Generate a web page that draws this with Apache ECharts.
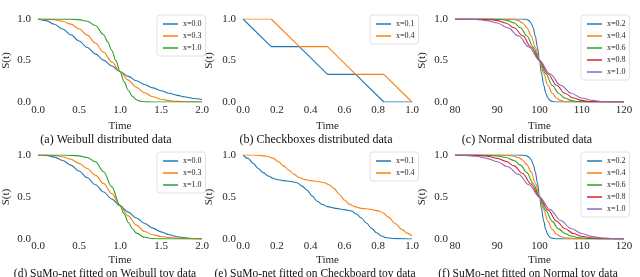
<!DOCTYPE html>
<html>
<head>
<meta charset="utf-8">
<script src="https://cdn.jsdelivr.net/npm/echarts@6/dist/echarts.min.js"></script>
<style>html,body{margin:0;padding:0;background:#fff}#c{width:640px;height:277px}</style>
</head>
<body>
<div id="c"></div>
<script>
// ---------- data ----------
const colors = ['#1f77b4', '#ff7f0e', '#2ca02c', '#d62728', '#9467bd'];
const captions = [
  '(a) Weibull distributed data', '(b) Checkboxes distributed data', '(c) Normal distributed data',
  '(d) SuMo-net fitted on Weibull toy data', '(e) SuMo-net fitted on Checkboard toy data', '(f) SuMo-net fitted on Normal toy data'
];
const weibullNames = ['x=0.0', 'x=0.3', 'x=1.0'];
const checkNames = ['x=0.1', 'x=0.4'];
const normalNames = ['x=0.2', 'x=0.4', 'x=0.6', 'x=0.8', 'x=1.0'];
const weibullTicks = [0, 2, 0.5];
const checkTicks = [0, 1, 0.2];
const normalTicks = [80, 120, 10];

// (a) Weibull true
const aBlue = [[0,1],[0.1,0.98],[0.2,0.937],[0.3,0.879],[0.4,0.81],[0.5,0.735],[0.6,0.657],[0.7,0.58],[0.8,0.504],[0.9,0.433],[1.0,0.368],[1.1,0.309],[1.2,0.256],[1.3,0.21],[1.4,0.17],[1.5,0.136],[1.6,0.105],[1.7,0.08],[1.8,0.06],[1.9,0.043],[2.0,0.03]];
const aOrange = [[0,1],[0.1,0.999],[0.2,0.992],[0.3,0.973],[0.4,0.938],[0.5,0.882],[0.6,0.806],[0.7,0.71],[0.8,0.599],[0.9,0.482],[1.0,0.368],[1.1,0.264],[1.2,0.178],[1.3,0.111],[1.4,0.064],[1.5,0.034],[1.6,0.017],[1.7,0.007],[1.8,0.003],[1.9,0.001],[2.0,0]];
const aGreen = [[0,1],[0.2,1],[0.4,0.998],[0.5,0.992],[0.6,0.973],[0.7,0.921],[0.8,0.811],[0.85,0.726],[0.9,0.62],[0.95,0.498],[1.0,0.368],[1.05,0.245],[1.1,0.142],[1.15,0.07],[1.2,0.028],[1.25,0.009],[1.3,0.002],[1.4,0],[2.0,0]];
// (b) Checkboxes true
const bBlue = [[0,1],[0.1667,0.6667],[0.3333,0.6667],[0.5,0.3333],[0.6667,0.3333],[0.8333,0],[1,0]];
const bOrange = [[0,1],[0.1667,1],[0.3333,0.6667],[0.5,0.6667],[0.6667,0.3333],[0.8333,0.3333],[1,0]];
// (c) Normal true
const cBlue = [[80,1],[95,1],[96,0.9996],[96.5,0.998],[97,0.994],[97.5,0.981],[98,0.952],[98.5,0.894],[99,0.798],[99.5,0.662],[100,0.5],[100.5,0.338],[101,0.202],[101.5,0.106],[102,0.048],[102.5,0.019],[103,0.006],[104,0.0004],[105,0],[120,0]];
const cOrange = [[80,1],[90,1],[92,0.9996],[93,0.998],[94,0.994],[95,0.981],[96,0.952],[97,0.894],[98,0.798],[99,0.662],[100,0.5],[101,0.338],[102,0.202],[103,0.106],[104,0.048],[105,0.019],[106,0.006],[108,0.0004],[110,0],[120,0]];
const cGreen = [[80,1],[86,1],[88,0.9996],[89.5,0.998],[91,0.994],[92.5,0.981],[94,0.952],[95.5,0.894],[97,0.798],[98.5,0.662],[100,0.5],[101.5,0.338],[103,0.202],[104.5,0.106],[106,0.048],[107.5,0.019],[109,0.006],[112,0.0004],[115,0],[120,0]];
const cRed = [[80,1],[82,1],[84,0.9996],[86,0.998],[88,0.994],[90,0.981],[92,0.952],[94,0.894],[96,0.798],[98,0.662],[100,0.5],[102,0.338],[104,0.202],[106,0.106],[108,0.048],[110,0.019],[112,0.006],[116,0.0004],[120,0]];
const cPurple = [[80,0.9996],[82.5,0.998],[85,0.994],[87.5,0.981],[90,0.952],[92.5,0.894],[95,0.798],[97.5,0.662],[100,0.5],[102.5,0.338],[105,0.202],[107.5,0.106],[110,0.048],[112.5,0.019],[115,0.006],[120,0.0004]];
// (d) Weibull fitted
const dBlue = [[0,1],[0.1,0.995],[0.2,0.975],[0.3,0.935],[0.4,0.88],[0.5,0.81],[0.6,0.73],[0.7,0.645],[0.8,0.56],[0.9,0.475],[1.0,0.395],[1.1,0.32],[1.2,0.25],[1.3,0.185],[1.4,0.13],[1.5,0.085],[1.6,0.05],[1.7,0.027],[1.8,0.013],[1.9,0.005],[2.0,0.002]];
const dOrange = [[0,1],[0.1,1],[0.2,0.995],[0.3,0.98],[0.4,0.95],[0.5,0.9],[0.6,0.84],[0.7,0.76],[0.8,0.66],[0.9,0.54],[1.0,0.4],[1.1,0.275],[1.2,0.165],[1.3,0.09],[1.4,0.05],[1.5,0.03],[1.6,0.017],[1.7,0.01],[1.8,0.005],[2.0,0.002]];
const dGreen = [[0,1],[0.3,1],[0.5,0.99],[0.6,0.97],[0.7,0.92],[0.8,0.8],[0.9,0.62],[1.0,0.4],[1.05,0.3],[1.1,0.2],[1.15,0.125],[1.2,0.07],[1.3,0.02],[1.4,0.005],[1.5,0.001],[2.0,0]];
// (e) Checkboard fitted
const eBlue = [[0,1],[0.03,0.96],[0.06,0.9],[0.09,0.84],[0.12,0.79],[0.15,0.75],[0.18,0.72],[0.21,0.705],[0.24,0.695],[0.28,0.685],[0.32,0.67],[0.35,0.63],[0.38,0.58],[0.41,0.51],[0.44,0.45],[0.47,0.41],[0.5,0.385],[0.55,0.365],[0.6,0.35],[0.64,0.335],[0.67,0.3],[0.7,0.25],[0.73,0.19],[0.76,0.13],[0.79,0.075],[0.82,0.035],[0.85,0.015],[0.9,0.004],[1.0,0]];
const eOrange = [[0,1],[0.06,1],[0.1,0.995],[0.14,0.985],[0.18,0.96],[0.21,0.92],[0.24,0.87],[0.27,0.82],[0.3,0.775],[0.33,0.735],[0.36,0.71],[0.4,0.695],[0.44,0.685],[0.48,0.67],[0.51,0.645],[0.54,0.6],[0.57,0.53],[0.6,0.465],[0.63,0.415],[0.66,0.385],[0.7,0.365],[0.75,0.355],[0.8,0.335],[0.83,0.31],[0.86,0.26],[0.9,0.185],[0.94,0.115],[0.97,0.07],[1.0,0.035]];
// (f) Normal fitted
const fBlue = [[80,1],[95,1],[96,0.998],[97,0.99],[97.5,0.975],[98,0.945],[98.5,0.89],[99,0.8],[99.5,0.67],[100,0.51],[100.5,0.35],[101,0.21],[101.5,0.11],[102,0.05],[102.5,0.02],[103,0.008],[104,0.002],[106,0],[120,0]];
const fOrange = [[80,1],[90,0.999],[92,0.996],[94,0.985],[95,0.97],[96,0.94],[97,0.885],[98,0.8],[99,0.67],[100,0.51],[101,0.345],[102,0.21],[103,0.115],[104,0.06],[105,0.03],[106,0.015],[108,0.006],[110,0.003],[115,0.001],[120,0]];
const fGreen = [[80,1],[86,0.999],[88,0.996],[90,0.988],[92,0.97],[94,0.935],[95.5,0.88],[97,0.79],[98.5,0.66],[100,0.5],[101.5,0.34],[103,0.21],[104.5,0.12],[106,0.065],[107.5,0.035],[109,0.018],[112,0.006],[115,0.002],[120,0]];
const fRed = [[80,1],[84,0.998],[86,0.993],[88,0.982],[90,0.96],[92,0.925],[94,0.87],[96,0.78],[98,0.655],[100,0.5],[102,0.345],[104,0.215],[106,0.125],[108,0.065],[110,0.032],[112,0.015],[116,0.004],[120,0.001]];
const fPurple = [[80,1],[82.5,0.995],[85,0.985],[87.5,0.96],[90,0.92],[92.5,0.86],[95,0.77],[97.5,0.645],[100,0.5],[102.5,0.35],[105,0.22],[107.5,0.125],[110,0.065],[112.5,0.03],[115,0.012],[117.5,0.005],[120,0.002]];

// ---------- layout ----------
const SERIF = '"Liberation Serif", "DejaVu Serif", serif';
const TXT = '#262626';
const colLeft = [33, 243, 455];
const colW = 169;
const rowTop = [19, 155];
const rowH = [83, 84];
const legendLeft = [157, 370, 581];
const legendTop = [15, 152];
const captionX = [106, 316, 527, 105, 315, 528];
const captionY = [140, 274];

const panels = [
  {ticks: weibullTicks, dec: 1, names: weibullNames, data: [aBlue, aOrange, aGreen], smooth: true},
  {ticks: checkTicks, dec: 1, names: checkNames, data: [bBlue, bOrange], smooth: false},
  {ticks: normalTicks, dec: 0, names: normalNames, data: [cBlue, cOrange, cGreen, cRed, cPurple], smooth: true},
  {ticks: weibullTicks, dec: 1, names: weibullNames, data: [dBlue, dOrange, dGreen], smooth: true},
  {ticks: checkTicks, dec: 1, names: checkNames, data: [eBlue, eOrange], smooth: true},
  {ticks: normalTicks, dec: 0, names: normalNames, data: [fBlue, fOrange, fGreen, fRed, fPurple], smooth: true}
];

const grids = [], xAxes = [], yAxes = [], series = [], legends = [], graphics = [];
panels.forEach((p, i) => {
  const col = i % 3, row = Math.floor(i / 3);
  grids.push({left: colLeft[col], top: rowTop[row], width: colW, height: rowH[row], containLabel: false});
  xAxes.push({
    type: 'value', gridIndex: i, min: p.ticks[0], max: p.ticks[1], interval: p.ticks[2],
    axisLine: {show: false}, axisTick: {show: false}, splitLine: {show: false},
    axisLabel: {fontFamily: SERIF, fontSize: 11, color: TXT, margin: row === 0 ? 3 : 2,
      formatter: v => v.toFixed(p.dec)},
    name: 'Time', nameLocation: 'middle', nameGap: row === 0 ? 19 : 16,
    nameTextStyle: {fontFamily: SERIF, fontSize: 11, color: TXT}
  });
  yAxes.push({
    type: 'value', gridIndex: i, min: 0, max: 1, interval: 0.5,
    axisLine: {show: false}, axisTick: {show: false}, splitLine: {show: false},
    axisLabel: {fontFamily: SERIF, fontSize: 11, color: TXT, margin: 7, formatter: v => v.toFixed(1)},
    name: 'S(t)', nameLocation: 'middle', nameGap: [26, 28, 27][col], nameRotate: 90,
    nameTextStyle: {fontFamily: SERIF, fontSize: 11, color: TXT}
  });
  p.data.forEach((d, k) => {
    series.push({
      type: 'line', name: p.names[k], xAxisIndex: i, yAxisIndex: i, data: d,
      symbol: 'none', showSymbol: false, smooth: p.smooth ? 0.35 : false, smoothMonotone: 'x',
      lineStyle: {width: 1.1, color: colors[k]}, itemStyle: {color: colors[k]}
    });
  });
  legends.push({
    orient: 'vertical', left: legendLeft[col], top: legendTop[row],
    data: p.names.map((n, k) => ({name: n, itemStyle: {color: colors[k]}})),
    icon: 'rect', itemWidth: 15, itemHeight: 1.5, itemGap: 2,
    padding: [4, 4, 3, 6], backgroundColor: 'rgba(255,255,255,0.85)',
    borderColor: '#e2e2e2', borderWidth: 1, borderRadius: 3,
    selectedMode: false,
    textStyle: {fontFamily: SERIF, fontSize: 8, color: TXT, lineHeight: 10}
  });
  graphics.push({
    type: 'text', x: captionX[i], y: captionY[row],
    style: {text: captions[i], fontFamily: SERIF, fontSize: row === 0 ? 12 : 11.5, fill: '#111', textAlign: 'center', textVerticalAlign: 'middle'}
  });
});

const chart = echarts.init(document.getElementById('c'), null, {renderer: 'canvas'});
chart.setOption({
  animation: false,
  backgroundColor: '#fff',
  grid: grids, xAxis: xAxes, yAxis: yAxes, series: series, legend: legends,
  graphic: graphics
});
</script>
</body>
</html>
